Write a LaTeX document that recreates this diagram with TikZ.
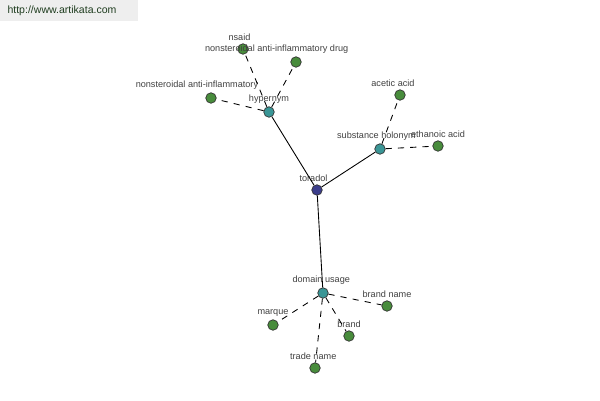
\documentclass[tikz,border=0pt]{standalone}
\usepackage{fontspec}
\setmainfont{Liberation Sans}
\usetikzlibrary{positioning}
\definecolor{rootblue}{RGB}{60, 62, 140}
\definecolor{relteal}{RGB}{58, 150, 150}
\definecolor{leafgreen}{RGB}{72, 140, 60}
\definecolor{txtgray}{RGB}{64, 64, 64}
\definecolor{markbg}{RGB}{238, 238, 238}

\tikzset{
  dot/.style={circle, draw=black!80, line width=0.4pt, minimum size=0.21cm, inner sep=0pt},
  root/.style={dot, fill=rootblue},
  rel/.style={dot, fill=relteal},
  leaf/.style={dot, fill=leafgreen},
  lbl/.style={text=txtgray, font=\fontsize{5.2}{6}\selectfont, inner sep=0pt, label distance=1.4pt},
  solidedge/.style={black, line width=0.5pt},
  dashedge/.style={black, line width=0.5pt, dash pattern=on 3.5pt off 3.5pt}
}

\begin{document}
\begin{tikzpicture}[x=0.02cm, y=-0.02cm]
  \useasboundingbox (0,0) rectangle (600,400);

  % watermark
  \fill[markbg] (0,0) rectangle (138,21);
  \node[text=txtgray!80!green!60!black, font=\fontsize{6}{7}\selectfont] (mark) at (62,11) {http://www.artikata.com};

  % root and relation nodes
  \node[root, label={[lbl, xshift=-2pt]above:toradol}] (toradol) at (317,190) {};
  \node[rel, label={[lbl]above:hypernym}] (hyper) at (269,112) {};
  \node[rel, label={[lbl, xshift=-2pt]above:substance holonym}] (holo) at (380,149) {};
  \node[rel, label={[lbl, xshift=-1pt]above:domain usage}] (domain) at (323,293) {};

  % leaves of hypernym
  \node[leaf, label={[lbl, xshift=-2pt]above:nsaid}] (nsaid) at (243,49) {};
  \node[leaf, label={[lbl, xshift=-11pt]above:nonsteroidal anti-inflammatory drug}] (nsaiddrug) at (296,62) {};
  \node[leaf, label={[lbl, xshift=-8pt]above:nonsteroidal anti-inflammatory}] (nsaidanti) at (211,98) {};

  % leaves of substance holonym
  \node[leaf, label={[lbl, xshift=-4pt]above:acetic acid}] (acetic) at (400,95) {};
  \node[leaf, label={[lbl]above:ethanoic acid}] (ethanoic) at (438,146) {};

  % leaves of domain usage
  \node[leaf, label={[lbl]above:brand name}] (brandname) at (387,306) {};
  \node[leaf, label={[lbl]above:marque}] (marque) at (273,325) {};
  \node[leaf, label={[lbl]above:brand}] (brand) at (349,336) {};
  \node[leaf, label={[lbl, xshift=-1pt]above:trade name}] (trade) at (315,368) {};

  % edges
  \draw[solidedge] (toradol) -- (hyper);
  \draw[solidedge] (toradol) -- (holo);
  \draw[solidedge] (toradol) -- (domain);

  \draw[dashedge] (hyper) -- (nsaid);
  \draw[dashedge] (hyper) -- (nsaiddrug);
  \draw[dashedge] (hyper) -- (nsaidanti);

  \draw[dashedge] (holo) -- (acetic);
  \draw[dashedge] (holo) -- (ethanoic);

  \draw[dashedge] (domain) -- (brandname);
  \draw[dashedge] (domain) -- (marque);
  \draw[dashedge] (domain) -- (brand);
  \draw[dashedge] (domain) -- (trade);
\end{tikzpicture}
\end{document}
